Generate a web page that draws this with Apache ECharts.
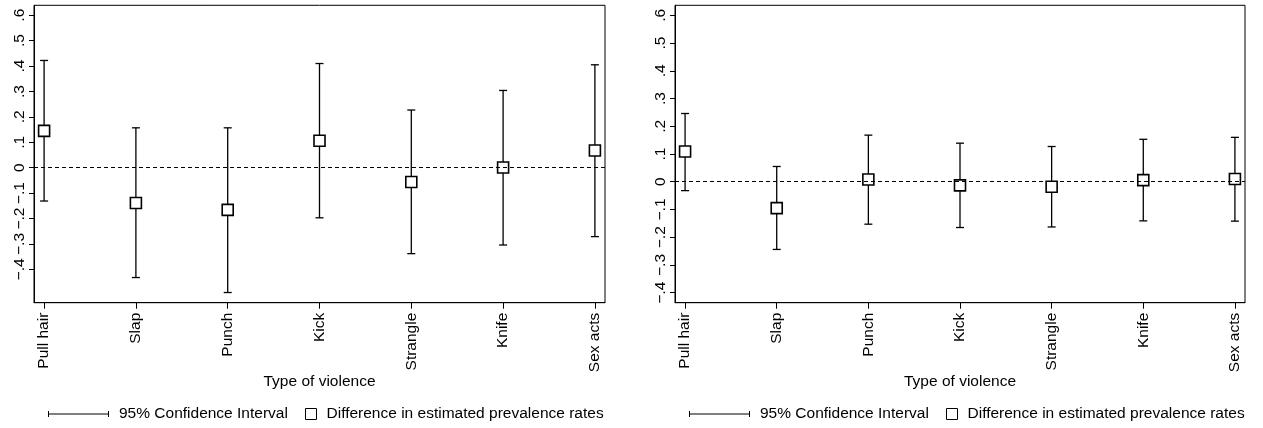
<!DOCTYPE html>
<html lang="en" style="height: 100%">
<head>
  <meta charset="utf-8">
</head>
<body style="height: 100%; margin: 0; background: #fff">
  <div id="container" style="width: 1263px; height: 428px"></div>

  <script type="text/javascript" src="https://cdn.jsdelivr.net/npm/echarts@6.0.0/dist/echarts.min.js"></script>
  <script type="text/javascript">
    // violence types on the x axis
    var categories = ['Pull hair', 'Slap', 'Punch', 'Kick', 'Strangle', 'Knife', 'Sex acts'];
    var yTicks = [-0.4, -0.3, -0.2, -0.1, 0, 0.1, 0.2, 0.3, 0.4, 0.5, 0.6];

    // left panel: difference in estimated prevalence + 95% CI
    var leftEst = [0.145, -0.139, -0.166, 0.106, -0.056, 0.001, 0.068];
    var leftLow = [-0.131, -0.432, -0.491, -0.197, -0.338, -0.304, -0.271];
    var leftHigh = [0.422, 0.157, 0.157, 0.410, 0.227, 0.304, 0.405];

    // right panel
    var rightEst = [0.109, -0.095, 0.008, -0.013, -0.018, 0.006, 0.010];
    var rightLow = [-0.032, -0.244, -0.153, -0.165, -0.163, -0.141, -0.142];
    var rightHigh = [0.246, 0.055, 0.168, 0.139, 0.127, 0.153, 0.160];

    var CI_NAME = '95% Confidence Interval';
    var EST_NAME = 'Difference in estimated prevalence rates';
    var FONT = 'Liberation Sans, Arial, Helvetica, sans-serif';
    var FS = 15.5;

    var dom = document.getElementById('container');
    var myChart = echarts.init(dom, null, { renderer: 'canvas' });

    function fmtY(v) {
      if (Math.abs(v) < 1e-9) return '0';
      var s = '.' + Math.round(Math.abs(v) * 10);
      return v < 0 ? '\u2212' + s : s;
    }

    function ciData(low, high) {
      return categories.map(function (c, i) { return [i + 1, low[i], high[i]]; });
    }
    function estData(est) {
      return categories.map(function (c, i) { return [i + 1, est[i]]; });
    }

    function renderCI(params, api) {
      var x = api.value(0);
      var lo = api.coord([x, api.value(1)]);
      var hi = api.coord([x, api.value(2)]);
      var cap = 4;
      var style = { stroke: '#000', lineWidth: 1.3 };
      return {
        type: 'group',
        children: [
          { type: 'line', shape: { x1: lo[0], y1: lo[1], x2: hi[0], y2: hi[1] }, style: style },
          { type: 'line', shape: { x1: lo[0] - cap, y1: lo[1], x2: lo[0] + cap, y2: lo[1] }, style: style },
          { type: 'line', shape: { x1: hi[0] - cap, y1: hi[1], x2: hi[0] + cap, y2: hi[1] }, style: style }
        ]
      };
    }

    var grids = [
      { left: 34, top: 5.3, width: 571, height: 297.4, yMin: -0.531, yMax: 0.639 },
      { left: 675, top: 5.3, width: 570, height: 297.4, yMin: -0.436, yMax: 0.636 }
    ];

    var xAxes = grids.map(function (g, k) {
      return {
        type: 'value', gridIndex: k, min: 0.89, max: 7.11,
        splitLine: { show: false },
        axisLine: { show: true, onZero: false, lineStyle: { color: '#000', width: 1 } },
        axisTick: { show: true, length: 6, customValues: [1, 2, 3, 4, 5, 6, 7], lineStyle: { color: '#000' } },
        axisLabel: {
          customValues: [1, 2, 3, 4, 5, 6, 7],
          rotate: 90, margin: 10, color: '#000', fontFamily: FONT, fontSize: FS,
          formatter: function (v) { return categories[Math.round(v) - 1]; }
        },
        name: 'Type of violence', nameLocation: 'middle', nameGap: 71, nameMoveOverlap: false,
        nameTextStyle: { color: '#000', fontFamily: FONT, fontSize: FS }
      };
    });

    var yAxes = grids.map(function (g, k) {
      return {
        type: 'value', gridIndex: k, min: g.yMin, max: g.yMax,
        splitLine: { show: false },
        axisLine: { show: true, onZero: false, lineStyle: { color: '#000', width: 1 } },
        axisTick: { show: true, length: 5, customValues: yTicks, lineStyle: { color: '#000' } },
        axisLabel: {
          customValues: yTicks, rotate: 90, margin: 6,
          color: '#000', fontFamily: FONT, fontSize: FS, formatter: fmtY
        }
      };
    });

    var panels = [
      { low: leftLow, high: leftHigh, est: leftEst },
      { low: rightLow, high: rightHigh, est: rightEst }
    ];

    var series = [];
    panels.forEach(function (p, k) {
      series.push({
        name: 'zero' + k, type: 'line', xAxisIndex: k, yAxisIndex: k,
        data: [], silent: true, z: 1,
        markLine: {
          silent: true, symbol: 'none', label: { show: false }, animation: false,
          lineStyle: { color: '#000', type: [4, 3], width: 1 },
          data: [{ yAxis: 0 }]
        }
      });
      series.push({
        name: CI_NAME, type: 'custom', xAxisIndex: k, yAxisIndex: k,
        itemStyle: { color: '#000' },
        renderItem: renderCI, data: ciData(p.low, p.high), z: 2, silent: true
      });
      series.push({
        name: EST_NAME, type: 'scatter', xAxisIndex: k, yAxisIndex: k,
        symbol: 'rect', symbolSize: 11,
        itemStyle: { color: '#fff', borderColor: '#000', borderWidth: 1.6, opacity: 1 },
        data: estData(p.est), z: 3, silent: true
      });
    });

    var ciIcon = 'path://M0,0h1v6h-1zM0,2.5h61v1h-61zM60,0h1v6h-1z';
    var legendText = { color: '#000', fontFamily: FONT, fontSize: FS, padding: [0, 0, 0, 5] };

    var legends = [];
    grids.forEach(function (g) {
      legends.push({
        left: g.left + 14, top: 406, padding: 0, selectedMode: false,
        itemWidth: 61, itemHeight: 6, textStyle: legendText,
        data: [{ name: CI_NAME, icon: ciIcon, itemStyle: { color: '#000' } }]
      });
      legends.push({
        left: g.left + 271, top: 406, padding: 0, selectedMode: false,
        itemWidth: 11, itemHeight: 11, textStyle: legendText,
        data: [{ name: EST_NAME, icon: 'rect', itemStyle: { color: '#fff', borderColor: '#000', borderWidth: 1 } }]
      });
    });

    var option = {
      backgroundColor: '#fff',
      animation: false,
      grid: grids.map(function (g) {
        return { left: g.left, top: g.top, width: g.width, height: g.height, show: true, borderColor: '#000', borderWidth: 1, backgroundColor: '#fff' };
      }),
      xAxis: xAxes,
      yAxis: yAxes,
      legend: legends,
      series: series
    };

    myChart.setOption(option);
    window.addEventListener('resize', myChart.resize);
  </script>
</body>
</html>
